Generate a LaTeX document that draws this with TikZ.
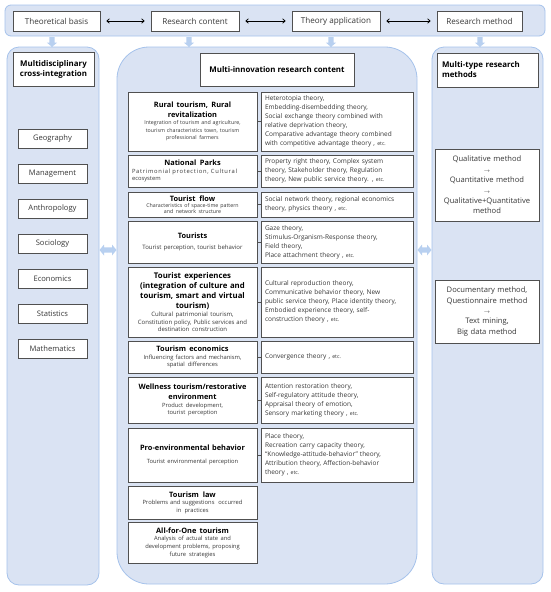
\documentclass[tikz,border=0pt]{standalone}
\usepackage{fontspec}
\setmainfont{Open Sans}
\usetikzlibrary{arrows.meta}
\definecolor{bandfill}{RGB}{218,227,243}
\definecolor{bandline}{RGB}{165,194,235}
\definecolor{arrowfill}{RGB}{184,208,240}
\definecolor{boxline}{RGB}{80,80,80}
\definecolor{txt}{RGB}{55,55,55}
\newcommand\myfix{\spaceskip=0pt\xspaceskip=0pt\relax}
\newcommand\myttl{\fontsize{7.4}{9.8}\selectfont\bfseries\color{black}\myfix}
\newcommand\mysub[1]{\fontsize{#1}{7.6}\selectfont\color{txt}\myfix}
\newcommand\myrt{\fontsize{6.5}{9}\selectfont}
\newcommand\myetc{{\fontsize{5.2}{9}\selectfont etc.}}
\tikzset{
  band/.style={fill=bandfill, draw=bandline, line width=0.8pt},
  wbox/.style={draw=boxline, fill=white, line width=0.7pt, inner sep=2pt, text=txt},
  topbox/.style={wbox, minimum height=20pt, font=\fontsize{8.1}{9}\selectfont},
  subj/.style={wbox, minimum width=69pt, minimum height=19pt, font=\fontsize{7.6}{9}\selectfont},
  lbox/.style={wbox, minimum width=129pt, text width=125pt, align=center},
  rbox/.style={wbox, minimum width=152pt, text width=144pt, inner xsep=4pt, align=left, font=\myrt},
  fatarr/.style={fill=arrowfill, draw=none},
  thinarr/.style={{Straight Barb[length=2.5pt,width=4.5pt]}-{Straight Barb[length=2.5pt,width=4.5pt]}, line width=0.8pt, shorten <=6pt, shorten >=6pt},
  link/.style={draw=boxline, line width=0.7pt}
}
\begin{document}
\begin{tikzpicture}[x=1pt,y=-1pt]
\useasboundingbox (0,0) rectangle (550,592);
% top band
\draw[band, rounded corners=6pt] (5,5) rectangle (545,36);
\node[topbox, minimum width=87pt] (tb) at (56.5,21) {Theoretical basis};
\node[topbox, minimum width=88pt] (rc) at (195,21) {Research content};
\node[topbox, minimum width=88pt] (ta) at (336,21) {Theory application};
\node[topbox, minimum width=85pt] (rm) at (479.5,21) {Research method};
\draw[thinarr] (tb) -- (rc);
\draw[thinarr] (rc) -- (ta);
\draw[thinarr] (ta) -- (rm);
% down arrows
\foreach \x/\n in {52/d1,189/d2,331/d3,480/d4}{
  \fill[fatarr] (\x-2.6,37) -- (\x+2.6,37) -- (\x+2.6,42.5) -- (\x+5.2,42.5) -- (\x,47) -- (\x-5.2,42.5) -- (\x-2.6,42.5) -- cycle;
  \coordinate (\n) at (\x,42);
}
% columns
\draw[band, rounded corners=12pt] (7,47) rectangle (99,585);
\draw[band, rounded corners=32pt] (117,47) rectangle (417,584);
\draw[band, rounded corners=12pt] (432,47) rectangle (543,584);
% side double arrows
\foreach \a/\b in {99.5/116.5, 417.5/431.5}{
  \fill[fatarr] (\a,250) -- (\a+4.5,244.5) -- (\a+4.5,247.4) -- (\b-4.5,247.4) -- (\b-4.5,244.5) -- (\b,250) -- (\b-4.5,255.5) -- (\b-4.5,252.6) -- (\a+4.5,252.6) -- (\a+4.5,255.5) -- cycle;
}
% left column
\node[wbox, minimum width=81pt, minimum height=34pt, text width=77pt, align=center, font=\fontsize{7.9}{10}\selectfont\bfseries, text=black] (md) at (53.5,69) {Multidisciplinary\\cross-integration};
\node[subj] (g1) at (52.5,138.5) {Geography};
\node[subj] (g2) at (52.5,173.5) {Management};
\node[subj] (g3) at (52.5,208.5) {Anthropology};
\node[subj] (g4) at (52.5,243.5) {Sociology};
\node[subj] (g5) at (52.5,278.5) {Economics};
\node[subj] (g6) at (52.5,313.5) {Statistics};
\node[subj] (g7) at (52.5,348.5) {Mathematics};
% right column
\node[wbox, minimum width=101pt, minimum height=34pt, text width=91pt, inner xsep=5pt, align=left, font=\fontsize{7.9}{10}\selectfont\bfseries, text=black] (mt) at (487.5,70) {Multi-type research\\methods};
\node[wbox, minimum width=104pt, minimum height=72pt, text width=100pt, align=center, font=\fontsize{7.6}{10.4}\selectfont] (q1) at (487,185) {Qualitative method\\{\fontsize{5}{10.4}\selectfont$\rightarrow$}\\Quantitative method\\{\fontsize{5}{10.4}\selectfont$\rightarrow$}\\Qualitative+Quantitative\\method};
\node[wbox, minimum width=104pt, minimum height=63pt, text width=100pt, align=center, font=\fontsize{7.6}{10.4}\selectfont] (q2) at (487,311.5) {Documentary method,\\Questionnaire method\\{\fontsize{5}{10.4}\selectfont$\rightarrow$}\\Text mining,\\Big data method};
% middle column
\node[wbox, minimum width=154pt, minimum height=33pt, font=\fontsize{7.9}{9}\selectfont\bfseries, text=black] (mi) at (277,69.5) {Multi-innovation research content};
% rows
\node[lbox, minimum height=59pt] (l1) at (192.5,121.5) {{\myttl Rural tourism, Rural\\revitalization\par}{\mysub{5.3}Integration of tourism and agriculture,\\tourism characteristics town, tourism\\professional farmers\par}};
\node[rbox, minimum height=59pt] (r1) at (337,121.5) {Heterotopia theory,\\Embedding-disembedding theory,\\Social exchange theory combined with\\relative deprivation theory,\\Comparative advantage theory combined\\with competitive advantage theory , \myetc};
\node[lbox, minimum height=32pt] (l2) at (192.5,171) {{\myttl National Parks\par}{\mysub{5.8}\makebox[121pt][l]{\addfontfeature{LetterSpace=12}Patrimonial protection, Cultural}\\\makebox[121pt][l]{ecosystem}\par}};
\node[rbox, minimum height=32pt] (r2) at (337,171) {Property right theory, Complex system\\theory, Stakeholder theory, Regulation\\theory, New public service theory. , \myetc};
\node[lbox, minimum height=25pt] (l3) at (192.5,204.5) {{\myttl Tourist flow\par}{\fontsize{5.3}{6}\selectfont\color{txt}\myfix Characteristics of space-time pattern\\and network structure\par}};
\node[rbox, minimum height=25pt] (r3) at (337,204.5) {Social network theory, regional economics\\theory, physics theory , \myetc};
\node[lbox, minimum height=42pt] (l4) at (192.5,242) {{\myttl Tourists\par}\vspace{3pt}{\mysub{6}Tourist perception, tourist behavior\par}};
\node[rbox, minimum height=42pt] (r4) at (337,242) {Gaze theory,\\Stimulus-Organism-Response theory,\\Field theory,\\Place attachment theory , \myetc};
\node[lbox, minimum height=70pt] (l5) at (192.5,302) {{\fontsize{7.8}{10.2}\selectfont\bfseries\color{black}\myfix Tourist experiences\\(integration of culture and\\tourism, smart and virtual\\tourism)\par}{\mysub{6}Cultural patrimonial tourism,\\Constitution policy, Public services and\\destination construction\par}};
\node[rbox, minimum height=70pt] (r5) at (337,302) {Cultural reproduction theory,\\Communicative behavior theory, New\\public service theory, Place identity theory,\\Embodied experience theory, self-\\construction theory , \myetc};
\node[lbox, minimum height=32pt] (l6) at (192.5,357) {{\myttl Tourism economics\par}{\mysub{5.8}Influencing factors and mechanism,\\spatial differences\par}};
\node[rbox, minimum height=32pt] (r6) at (337,357) {Convergence theory , \myetc};
\node[lbox, minimum height=46pt] (l7) at (192.5,400) {{\myttl Wellness tourism/restorative\\environment\par}{\mysub{5.8}Product development,\\tourist perception\par}};
\node[rbox, minimum height=46pt] (r7) at (337,400) {Attention restoration theory,\\Self-regulatory attitude theory,\\Appraisal theory of emotion,\\Sensory marketing theory , \myetc};
\node[lbox, minimum height=54pt] (l8) at (192.5,455) {{\myttl Pro-environmental behavior\par}\vspace{6pt}{\mysub{5.8}Tourist environmental perception\par}};
\node[rbox, minimum height=54pt] (r8) at (337,455) {Place theory,\\Recreation carry capacity theory,\\“Knowledge-attitude-behavior” theory,\\Attribution theory, Affection-behavior\\theory , \myetc};
\node[lbox, minimum height=33pt] (l9) at (192.5,502.5) {{\myttl Tourism law\par}{\mysub{5.8}Problems and suggestions\ \ occurred\\in practices\par}};
\node[lbox, minimum height=41pt] (l10) at (192.5,542.5) {{\myttl All-for-One tourism\par}{\mysub{5.8}Analysis of actual state and\\development problems, proposing\\future strategies\par}};
\foreach \i in {1,...,8} \draw[link] (l\i) -- (r\i);
\end{tikzpicture}
\end{document}
